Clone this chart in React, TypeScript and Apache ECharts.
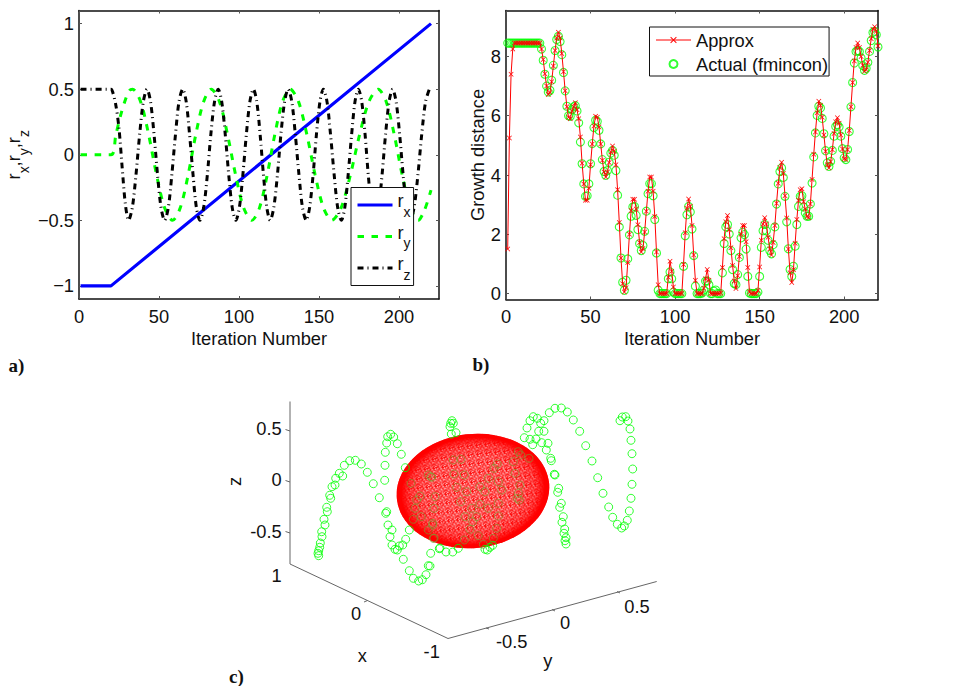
import React, { useEffect, useRef } from "react";
import * as echarts from "echarts";

const FONT = "Liberation Sans";
const SERIF = "Liberation Serif";

// ---- panel a ----
const xTicksA = [0, 50, 100, 150, 200];
const yTicksA = [-1, -0.5, 0, 0.5, 1];
const rxIter = [1, 20, 220];
const rxVal = [-1, -1, 1];
const ryIter = [1, 20, 23, 26, 29, 31.5, 33.5, 38.5, 43.5, 48.5, 53.5, 58.5, 63.3, 68.2, 73, 77.9, 82.7, 87.8, 92.8, 97.9, 102.9, 108, 112.8, 117.6, 122.4, 127.2, 132, 137.2, 142.4, 147.6, 152.8, 158, 163.8, 169.6, 175.4, 181.2, 187, 192, 197, 202, 207, 212, 216, 220];
const ryVal = [0, 0, 0.15, 0.3, 0.42, 0.49, 0.5, 0.405, 0.155, -0.155, -0.405, -0.5, -0.405, -0.155, 0.155, 0.405, 0.5, 0.405, 0.155, -0.155, -0.405, -0.5, -0.405, -0.155, 0.155, 0.405, 0.5, 0.405, 0.155, -0.155, -0.405, -0.5, -0.405, -0.155, 0.155, 0.405, 0.5, 0.405, 0.155, -0.155, -0.405, -0.5, -0.42, -0.27];
const rzIter = [1, 20, 21, 23, 25, 27, 29, 31, 33.3, 35.6, 37.9, 40.2, 42.5, 44.7, 46.9, 49.1, 51.3, 53.5, 55.8, 58, 60.3, 62.5, 64.8, 67, 69.1, 71.3, 73.4, 75.6, 77.9, 80.2, 82.4, 84.7, 87, 89.2, 91.4, 93.6, 95.8, 98, 100.2, 102.4, 104.6, 106.8, 109, 111.1, 113.2, 115.3, 117.4, 119.5, 121.7, 124, 126.2, 128.5, 130.7, 133, 135.2, 137.5, 139.7, 142, 144.1, 146.3, 148.4, 150.6, 152.7, 155, 157.2, 159.5, 161.7, 164, 166.1, 168.2, 170.4, 172.5, 174.6, 176.7, 178.8, 180.8, 182.9, 185, 187.2, 189.4, 191.6, 193.8, 196, 198.2, 200.4, 202.6, 204.8, 207, 209.4, 211.8, 214.2, 216.6, 219];
const rzVal = [0.5, 0.5, 0.48, 0.38, 0.2, -0.1, -0.38, -0.5, -0.405, -0.155, 0.155, 0.405, 0.5, 0.405, 0.155, -0.155, -0.405, -0.5, -0.405, -0.155, 0.155, 0.405, 0.5, 0.405, 0.155, -0.155, -0.405, -0.5, -0.405, -0.155, 0.155, 0.405, 0.5, 0.405, 0.155, -0.155, -0.405, -0.5, -0.405, -0.155, 0.155, 0.405, 0.5, 0.405, 0.155, -0.155, -0.405, -0.5, -0.405, -0.155, 0.155, 0.405, 0.5, 0.405, 0.155, -0.155, -0.405, -0.5, -0.405, -0.155, 0.155, 0.405, 0.5, 0.405, 0.155, -0.155, -0.405, -0.5, -0.405, -0.155, 0.155, 0.405, 0.5, 0.405, 0.155, -0.155, -0.405, -0.5, -0.405, -0.155, 0.155, 0.405, 0.5, 0.405, 0.155, -0.155, -0.405, -0.5, -0.405, -0.155, 0.155, 0.405, 0.5];

// ---- panel b ----
const xTicksB = [0, 50, 100, 150, 200];
const yTicksB = [0, 2, 4, 6, 8];
const approx = [
  1.5, 5.25, 7.4, 8.25, 8.45, 8.45, 8.45, 8.45, 8.45, 8.45, 8.45, 8.45, 8.45, 8.45, 8.45, 8.45, 8.45, 8.45, 8.45, 8.45,
  8.25, 7.9, 7.42, 7.0, 6.72, 6.78, 7.15, 7.68, 8.2, 8.62, 8.82, 8.62, 8.1, 7.48, 6.84, 6.3, 5.95, 5.9, 6.15, 6.3,
  6.44, 6.2, 5.9, 5.28, 4.4, 3.7, 3.15, 3.15, 3.55, 4.35, 5.05, 5.65, 5.98, 5.95, 5.62, 5.05, 4.5, 4.1, 3.93, 4.1,
  4.42, 4.78, 4.98, 4.8, 4.35, 3.5, 2.4, 1.2, 0.33, 0.05, 0.2, 1.05, 2.0, 2.8, 3.18, 3.18, 2.85, 2.32, 1.72, 1.4,
  1.52, 2.08, 2.78, 3.45, 3.93, 3.93, 3.45, 2.6, 1.4, 0.3, 0, 0, 0, 0, 0, 0.55, 1.09, 0.75, 0.22, 0,
  0, 0, 0, 0, 0.98, 2.05, 2.88, 3.19, 2.95, 2.3, 1.3, 0.45, 0, 0, 0, 0, 0.18, 0.5, 0.81, 0.45,
  0, 0, 0, 0, 0, 0, 0.02, 0.88, 1.85, 2.42, 2.63, 2.15, 1.55, 0.95, 0.42, 0.17, 0.6, 1.25, 2.0, 2.3,
  2.3, 1.75, 0.88, 0.05, 0, 0, 0, 0, 0.1, 0.9, 1.8, 2.35, 2.56, 2.35, 1.9, 1.5, 1.3, 1.72, 2.3, 3.05,
  3.72, 4.25, 4.43, 4.05, 3.3, 2.55, 1.5, 0.7, 0.37, 0.8, 1.7, 2.5, 3.15, 3.5, 3.54, 3.1, 2.85, 2.6, 2.56, 3.02,
  3.85, 4.7, 5.45, 6.1, 6.49, 6.35, 5.95, 5.35, 4.8, 4.35, 4.24, 4.45, 4.85, 5.4, 5.8, 5.93, 5.75, 5.35, 4.88, 4.55,
  4.52, 4.85, 5.5, 6.3, 7.12, 7.85, 8.3, 8.45, 8.3, 8.0, 7.7, 7.5, 7.55, 7.8, 8.2, 8.6, 8.92, 9.0, 8.85, 8.35,
];
const actual = [
  8.45, 8.45, 8.45, 8.45, 8.45, 8.45, 8.45, 8.45, 8.45, 8.45, 8.45, 8.45, 8.45, 8.45, 8.45, 8.45, 8.45, 8.45, 8.45, 8.45,
  8.25, 7.87, 7.4, 7.0, 6.8, 6.86, 7.2, 7.7, 8.2, 8.57, 8.68, 8.5, 8.06, 7.46, 6.84, 6.32, 6.0, 5.98, 6.2, 6.3,
  6.34, 6.16, 5.76, 5.11, 4.38, 3.7, 3.28, 3.3, 3.7, 4.38, 5.06, 5.6, 5.85, 5.81, 5.51, 5.05, 4.52, 4.12, 3.99, 4.15,
  4.43, 4.74, 4.83, 4.67, 4.15, 3.32, 2.25, 1.2, 0.38, 0.11, 0.45, 1.17, 1.98, 2.61, 2.92, 2.94, 2.64, 2.16, 1.69, 1.45,
  1.62, 2.1, 2.78, 3.37, 3.71, 3.71, 3.3, 2.5, 1.37, 0.11, 0, 0, 0, 0, 0, 0.5, 0.73, 0.5, 0.05, 0,
  0, 0, 0, 0, 0.92, 1.95, 2.66, 2.94, 2.75, 2.18, 1.28, 0.25, 0, 0, 0, 0.02, 0.12, 0.42, 0.42, 0.3,
  0, 0, 0.08, 0.12, 0, 0, 0, 0.7, 1.69, 2.25, 2.33, 2.01, 1.45, 0.81, 0.34, 0.3, 0.64, 1.22, 1.88, 2.07,
  1.99, 1.5, 0.58, 0.02, 0, 0, 0, 0, 0.05, 0.58, 1.56, 2.12, 2.33, 2.12, 1.8, 1.45, 1.34, 1.65, 2.25, 3.02,
  3.7, 4.12, 4.24, 3.92, 3.28, 2.42, 1.51, 0.81, 0.58, 0.92, 1.6, 2.33, 2.94, 3.28, 3.3, 2.92, 2.72, 2.61, 2.61, 3.02,
  3.73, 4.61, 5.42, 6.01, 6.32, 6.26, 5.91, 5.39, 4.82, 4.41, 4.29, 4.46, 4.83, 5.31, 5.64, 5.7, 5.62, 5.31, 4.89, 4.58,
  4.52, 4.86, 5.47, 6.3, 7.12, 7.78, 8.17, 8.2, 8.17, 7.95, 7.69, 7.53, 7.6, 7.8, 8.17, 8.54, 8.81, 8.85, 8.73, 8.32,
];

// ---- panel c: projected positions of the visible points ----
const pointsBright = [
  [318.7, 555.7], [318, 553.3], [318.7, 550.7], [319.7, 547.3], [320.3, 543], [322, 536.7], [321.7, 531.7], [325, 525], [324, 519.3], [326.7, 507.3],
  [327.3, 511.7], [330.7, 498.3], [329.7, 495.3], [332, 486.7], [335, 485], [335.7, 478.3], [339.3, 473.3], [342.7, 476], [344.3, 465.3], [349.7, 460.7],
  [355.3, 460.3], [361.3, 464], [367.3, 472.3], [373.3, 483.7], [379.3, 497.7], [385.7, 513.3], [386.7, 511.7], [388, 525], [392, 530], [390, 536.7],
  [392, 545], [395, 549.3], [397.3, 550], [399.3, 546], [402.7, 545], [405.7, 539.3], [403.3, 559.3], [409.3, 570.7], [413.3, 578.3], [418.7, 581],
  [422.3, 579.7], [426, 574.7], [428.3, 565.7], [430.7, 553.3], [439.3, 548.7], [390.7, 434.3], [387.7, 436.7], [393.7, 437], [386.7, 443], [397.3, 443.7],
  [385.3, 452.3], [401.3, 454.3], [385, 465.3], [405.3, 467.7], [384.7, 480.3], [409.3, 530],
  [452, 420.7], [450.7, 423.3], [453.3, 423.3], [450, 426.7], [456, 432.7], [451.3, 434],
  [533.3, 416.7], [537.3, 418.3], [530, 420.7], [544, 420.7], [540.7, 423.3], [527, 428], [544, 431.3], [538.7, 431.3], [524.3, 437.7], [530, 439.3],
  [536, 439], [532.7, 444.7], [541.7, 442.7], [548, 443.3], [546.3, 450], [550.7, 458.3], [551.3, 460.7], [554.3, 474.3], [555, 475], [558.7, 488.3],
  [557.7, 492.3], [561.3, 503.3], [559.7, 507.3], [563.3, 516.7], [562, 522.3], [564.7, 529], [564, 533.3], [566, 537.7], [565, 540.7], [566, 544],
  [549.3, 412.7], [555, 408.3], [561.3, 408], [567.3, 412], [573.3, 420], [579.7, 431.3], [585.7, 445.7], [592, 461], [597.7, 477.7], [603, 493.3],
  [608.7, 507], [612.7, 517.3], [617.3, 524.3], [621.7, 528], [624.3, 526], [627.3, 520.3], [629.3, 511], [631, 498.3], [632, 484.3], [632.7, 469],
  [632, 453.7], [631, 440.3], [630, 429], [628, 421], [625.7, 416.7], [622.3, 417], [620, 420.7],
  [458.3, 548.3], [452.7, 552], [446, 552], [440, 548], [430, 566], [485, 549.3], [487.3, 550], [490, 547.3], [492.7, 545.3],
];
const pointsOnSurface = [
  [411, 483.3], [428.3, 475], [431.7, 477.3], [420, 496], [416.7, 500], [415, 508.3], [421.3, 516.7], [413.3, 519.3], [432.7, 525], [428.3, 530],
  [433.3, 538.3], [435, 496.7], [483.3, 544.3], [478.3, 535.7], [464.3, 540], [434, 538.3], [493.3, 538.3], [453.3, 460], [461, 459.3], [454, 474],
  [464.3, 475], [456.7, 487.3], [466.7, 491.7], [460.7, 501.7], [480, 504], [488.3, 508.3], [498.3, 516], [496.7, 528.3], [472.7, 521.7], [470, 529.3],
  [476.7, 516.7], [465, 516.7], [471.7, 508.3], [497.3, 464], [494, 468.3], [488.3, 478.3], [498.3, 481.7], [501.7, 490], [485, 491.7], [498.3, 503.3],
  [480, 486.7], [513.3, 461.7], [518.3, 451.7], [520.7, 455], [529, 458.3], [515, 473.3], [520, 485], [518.3, 493.3], [517.3, 498.3], [519.3, 500],
  [432.7, 523.3], [434, 508.3], [431, 476.7],
];
const zTickLabels = ["0.5", "0", "-0.5"];
const xTickLabels3d = ["1", "0", "-1"];
const yTickLabels3d = ["-0.5", "0", "0.5"];

const FS = 18.3;
const RICH = {
  r: { fontFamily: FONT, fontSize: FS, lineHeight: 27, verticalAlign: "top", color: "#111" },
  s: { fontFamily: FONT, fontSize: 14, lineHeight: 27, verticalAlign: "bottom", color: "#111" },
};

const minus = (v: number) => String(v).replace("-", "\u2212");

function mainAxes(gridIndex: number, kind: "x" | "y", min: number, max: number, ticks: number[], name: any, nameGap: number) {
  return [
    {
      type: "value", gridIndex, min, max, name, nameLocation: "middle", nameGap,
      nameTextStyle: { fontFamily: FONT, fontSize: FS, color: "#111", rich: RICH },
      axisLine: { show: true, onZero: false, lineStyle: { color: "#111", width: 1.5 } },
      axisTick: { show: true, inside: true, length: 3, customValues: ticks, lineStyle: { color: "#555", width: 1 } },
      axisLabel: { show: true, customValues: ticks, margin: kind === "x" ? 8 : 5, fontFamily: FONT, fontSize: FS, color: "#111", formatter: minus, hideOverlap: false, showMinLabel: true, showMaxLabel: true },
      splitLine: { show: false },
    },
    {
      type: "value", gridIndex, min, max, position: kind === "x" ? "top" : "right",
      axisLine: { show: true, onZero: false, lineStyle: { color: "#111", width: 1.5 } },
      axisTick: { show: true, inside: true, length: 3, customValues: ticks, lineStyle: { color: "#555", width: 1 } },
      axisLabel: { show: false },
      splitLine: { show: false },
    },
  ];
}

const XMARK = "path://M0 1L1 0L5 4L9 0L10 1L6 5L10 9L9 10L5 6L1 10L0 9L4 5Z";

function label(x: number, y: number, text: string, rotation = 0) {
  return {
    type: "text", x, y, rotation,
    style: { text, fontFamily: FONT, fontSize: FS, fill: "#111", align: "center", verticalAlign: "middle" },
  };
}
function serif(x: number, y: number, text: string) {
  return {
    type: "text", x, y,
    style: { text, fontFamily: SERIF, fontWeight: "bold", fontSize: 19, fill: "#111", align: "left", verticalAlign: "middle" },
  };
}
function seg(x1: number, y1: number, x2: number, y2: number) {
  return { type: "line", shape: { x1, y1, x2, y2 }, style: { stroke: "#666", lineWidth: 1 } };
}

const TILE = [
  ".+.w..+..",
  "+w.+..w+.",
  "..+..+.+.",
  "w.+.w..+w",
  ".+..+w.+.",
  "..w+..+..",
  "+..+.w..+",
  ".w+..+.w.",
  "+....w+..",
];
const TILE_COLORS: Record<string, string> = { ".": "#ff1010", "+": "#ff9a9a", w: "#ffffff" };

function speckleTile() {
  const c = document.createElement("canvas");
  c.width = TILE[0].length;
  c.height = TILE.length;
  const g = c.getContext("2d")!;
  TILE.forEach((row, y) =>
    row.split("").forEach((ch, x) => {
      g.fillStyle = TILE_COLORS[ch];
      g.fillRect(x, y, 1, 1);
    }),
  );
  return c;
}

export default function App() {
  const ref = useRef<HTMLDivElement>(null);
  useEffect(() => {
    const chart = echarts.init(ref.current!, undefined, { renderer: "svg" });
    const [ax, ax2] = mainAxes(0, "x", 0, 225, xTicksA, "Iteration Number", 30);
    const [ay, ay2] = mainAxes(0, "y", -1.1, 1.1, yTicksA, "{r|r}{s|x}{r|,r}{s|y}{r|,r}{s|z}", 48);
    const [bx, bx2] = mainAxes(1, "x", 0, 220, xTicksB, "Iteration Number", 30);
    const [by, by2] = mainAxes(1, "y", -0.2, 9.55, yTicksB, "Growth distance", 18);
    const ELL_X = 473, ELL_Y = 491, ELL_RX = 76.5, ELL_RY = 57, ELL_ROT = 0.11;

    chart.setOption({
      animation: false,
      backgroundColor: "#fff",
      grid: [
        { left: 79, top: 10.5, width: 360, height: 288.5 },
        { left: 506, top: 10.5, width: 372, height: 289 },
        { left: 0, top: 0, width: 963, height: 686 },
      ],
      xAxis: [ax, ax2, bx, bx2, { type: "value", gridIndex: 2, min: 0, max: 963, show: false }],
      yAxis: [ay, ay2, by, by2, { type: "value", gridIndex: 2, min: 0, max: 686, inverse: true, show: false }],
      legend: [
        {
          data: ["rx", "ry", "rz"], orient: "vertical", left: 351, top: 187.5,
          padding: [4, 3, 4, 5], itemWidth: 35, itemHeight: 22, itemGap: 4.5,
          backgroundColor: "#fff", borderColor: "#111", borderWidth: 1, borderRadius: 0,
          itemStyle: { opacity: 0 },
          lineStyle: { width: 3, opacity: 1 },
          formatter: (n: string) => `{r|r}{s|${n[1]}}`,
          textStyle: { fontFamily: FONT, fontSize: FS, color: "#111", rich: RICH },
        },
        {
          data: ["Approx", "Actual (fmincon)"], orient: "vertical", left: 649.5, top: 27,
          padding: [4, 1, 3, 6], itemWidth: 35, itemHeight: 8, itemGap: 6,
          backgroundColor: "#fff", borderColor: "#111", borderWidth: 1, borderRadius: 0,
          lineStyle: { width: 1 },
          textStyle: { fontFamily: FONT, fontSize: FS, color: "#111" },
        },
      ],
      graphic: [
        {
          type: "ellipse", x: ELL_X, y: ELL_Y, rotation: ELL_ROT, silent: true,
          shape: { cx: 0, cy: 0, rx: ELL_RX, ry: ELL_RY },
          style: { fill: { image: speckleTile(), repeat: "repeat", imageWidth: 9, imageHeight: 9 } },
        },
        {
          type: "ellipse", x: ELL_X, y: ELL_Y, rotation: ELL_ROT, silent: true,
          shape: { cx: 0, cy: 0, rx: ELL_RX, ry: ELL_RY },
          style: {
            fill: new echarts.graphic.RadialGradient(0.5, 0.5, 0.5, [
              { offset: 0, color: "rgba(255,0,0,0)" },
              { offset: 0.6, color: "rgba(255,0,0,0.08)" },
              { offset: 0.82, color: "rgba(255,0,0,0.4)" },
              { offset: 0.94, color: "rgba(255,0,0,1)" },
              { offset: 1, color: "rgba(255,0,0,1)" },
            ]),
          },
        },
        seg(290, 401.5, 290, 564),
        seg(290, 564, 448, 638.5),
        seg(448, 638.5, 656.7, 581.5),
        seg(285.5, 429.5, 290, 431),
        seg(285.5, 480.5, 290, 482),
        seg(285.5, 531.5, 290, 533),
        seg(364, 602, 367.5, 600.5),
        seg(486, 628, 489, 629),
        seg(552, 609.5, 555, 611),
        seg(617, 591.5, 620, 593),
        label(269, 428, zTickLabels[0]),
        label(276.7, 479.5, zTickLabels[1]),
        label(266, 531, zTickLabels[2]),
        label(234, 481.5, "z", Math.PI / 2),
        label(276.7, 575, xTickLabels3d[0]),
        label(356, 613, xTickLabels3d[1]),
        label(431.7, 651, xTickLabels3d[2]),
        label(362.3, 655.5, "x"),
        label(511.7, 641, yTickLabels3d[0]),
        label(565, 622, yTickLabels3d[1]),
        label(637, 606, yTickLabels3d[2]),
        label(547.7, 660, "y"),
        serif(8.5, 365, "a)"),
        serif(472.5, 364.5, "b)"),
        serif(229, 676, "c)"),
      ],
      series: [
        {
          name: "rx", type: "line", xAxisIndex: 0, yAxisIndex: 0, symbol: "none",
          data: rxIter.map((x, i) => [x, rxVal[i]]),
          lineStyle: { color: "#0000ff", width: 3.2 }, itemStyle: { color: "#0000ff" },
        },
        {
          name: "ry", type: "line", xAxisIndex: 0, yAxisIndex: 0, symbol: "none", smooth: 0.3,
          data: ryIter.map((x, i) => [x, ryVal[i]]),
          lineStyle: { color: "#00ff00", width: 3, type: [6.5, 7.5] }, itemStyle: { color: "#00ff00" },
        },
        {
          name: "rz", type: "line", xAxisIndex: 0, yAxisIndex: 0, symbol: "none", smooth: 0.3,
          data: rzIter.map((x, i) => [x, rzVal[i]]),
          lineStyle: { color: "#000", width: 3, type: [6, 4, 1, 4] }, itemStyle: { color: "#000" },
        },
        {
          name: "Approx", type: "line", xAxisIndex: 2, yAxisIndex: 2, symbol: XMARK, symbolSize: 5,
          showAllSymbol: true,
          data: approx.map((v, i) => [i + 1, v]),
          lineStyle: { color: "#ff0000", width: 1 }, itemStyle: { color: "#ff0000" },
        },
        {
          name: "Actual (fmincon)", type: "scatter", xAxisIndex: 2, yAxisIndex: 2, symbol: "circle", symbolSize: 8,
          data: actual.map((v, i) => [i + 1, v]),
          itemStyle: { color: "rgba(0,0,0,0)", borderColor: "#00ff00", borderWidth: 1.1 },
        },
        {
          name: "Trajectory", type: "scatter", xAxisIndex: 4, yAxisIndex: 4, symbol: "circle", symbolSize: 8,
          data: pointsBright,
          itemStyle: { color: "rgba(0,0,0,0)", borderColor: "#00ff00", borderWidth: 1 },
        },
        {
          name: "Trajectory over surface", type: "scatter", xAxisIndex: 4, yAxisIndex: 4, symbol: "circle", symbolSize: 8,
          data: pointsOnSurface,
          itemStyle: { color: "rgba(0,0,0,0)", borderColor: "#74a030", borderWidth: 0.8 },
        },
      ],
    });
    return () => chart.dispose();
  }, []);
  return <div ref={ref} style={{ position: "fixed", left: 0, top: 0, width: 963, height: 686 }} />;
}
